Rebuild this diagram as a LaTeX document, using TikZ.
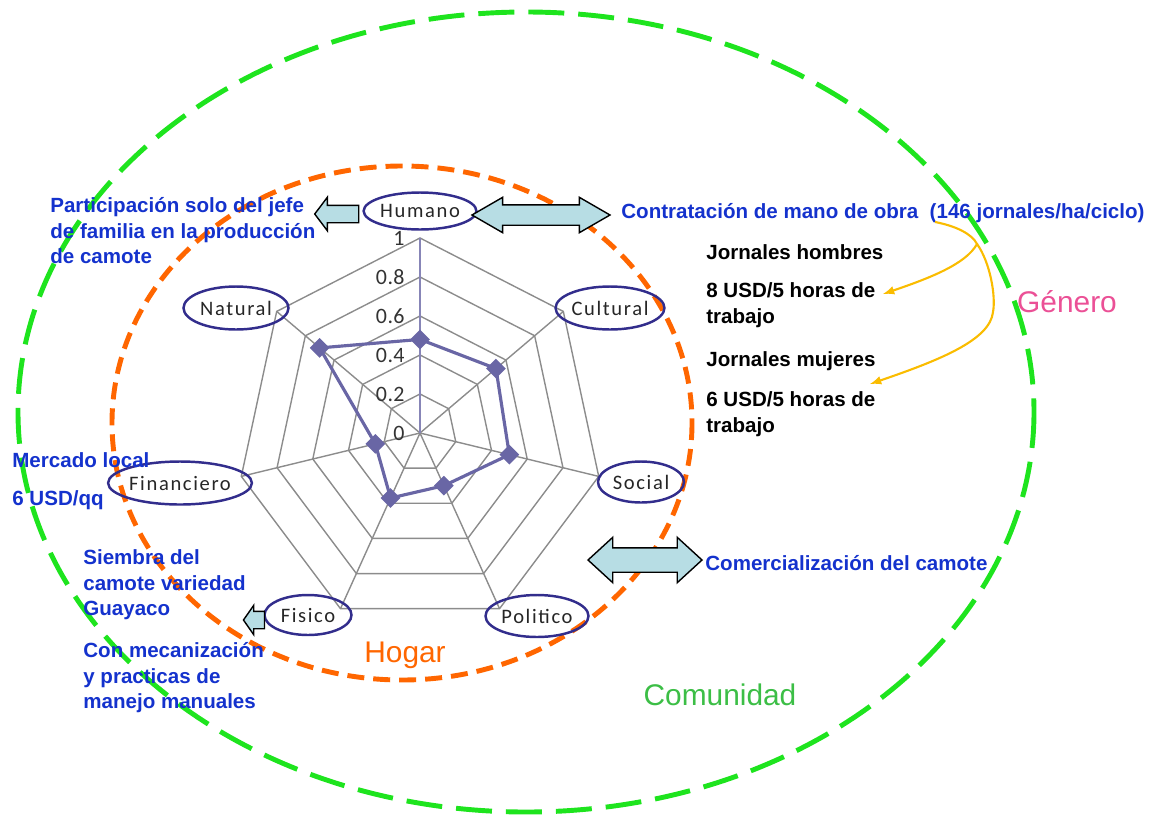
\documentclass[tikz,border=0pt]{standalone}
\usepackage{fontspec}
\usepackage{xcolor}
\usepackage{tikz}
\usetikzlibrary{shapes,arrows,positioning}
\newfontfamily\arialfont{Liberation Sans}
\newfontfamily\calfont{Carlito}[LetterSpace=8]
\newfontfamily\tickfont{Carlito}[LetterSpace=2]
\definecolor{txtblue}{RGB}{20,50,205}
\definecolor{capborder}{RGB}{50,45,140}
\definecolor{gridgray}{RGB}{140,140,140}
\definecolor{seriesblue}{RGB}{105,102,165}
\definecolor{arrowfill}{RGB}{183,221,228}
\definecolor{gold}{RGB}{250,188,0}
\definecolor{hogarorange}{RGB}{255,102,0}
\definecolor{comline}{RGB}{30,228,30}
\definecolor{comtext}{RGB}{60,190,70}
\definecolor{genpink}{RGB}{235,80,150}

\begin{document}
\begin{tikzpicture}[x=0.02cm, y=-0.02cm,
    capital/.style={ellipse, draw=capborder, line width=1.4pt, inner sep=0pt, text=black!85, font=\calfont\fontsize{11.7}{13}\selectfont},
    note/.style={anchor=west, align=left, inner sep=0pt, text=txtblue, font=\arialfont\bfseries\fontsize{11.7}{14.5}\selectfont},
    darknote/.style={note, text=black},
    zonelabel/.style={inner sep=0pt, font=\arialfont\fontsize{17}{20}\selectfont},
    webline/.style={draw=gridgray, line width=0.8pt},
    series/.style={draw=seriesblue, line width=1.8pt, line join=round},
    datapt/.style={diamond, fill=seriesblue, inner sep=0pt, minimum size=0.4cm},
    blockarrow/.style={draw=black, line width=0.8pt, fill=arrowfill, inner xsep=0pt},
    goldarrow/.style={->, >=latex, draw=gold, line width=1.2pt},
    homeline/.style={draw=hogarorange, line width=2.8pt, dash pattern=on 0.34cm off 0.18cm},
    commline/.style={draw=comline, line width=2.8pt, dash pattern=on 0.72cm off 0.28cm}
]
\useasboundingbox (0,0) rectangle (1159,825);

% community and household
\draw[commline] (526,412) ellipse [x radius=508, y radius=400];
\draw[homeline] (402,423) ellipse [x radius=290, y radius=257];

% radar chart
\begin{scope}[shift={(420,433)}, xscale=0.94]
    \foreach \r in {39,78,117,156,195}
        \draw[webline] (-90:\r) \foreach \k in {1,...,6} { -- ({-90+\k*360/7}:\r) } -- cycle;
    \foreach \k in {1,...,6}
        \draw[webline] (0,0) -- ({-90+\k*360/7}:195);
    \draw[draw=seriesblue!80, line width=0.8pt] (0,0) -- (-90:195);
    \foreach \v [count=\i from 0] in {0,0.2,0.4,0.6,0.8,1}
        \node[anchor=east, inner sep=0pt, text=black!80, font=\tickfont\fontsize{12.5}{14}\selectfont] (tick\i) at (-16,{-39*\i}) {\v};
    \foreach \v [count=\k from 0] in {0.48,0.53,0.5,0.3,0.37,0.25,0.7}
        \coordinate (d\k) at ({-90+\k*360/7}:{\v*195});
\end{scope}
\draw[series] (d0) -- (d1) -- (d2) -- (d3) -- (d4) -- (d5) -- (d6) -- cycle;
\foreach \k in {0,...,6}
    \node[datapt] (pt\k) at (d\k) {};

% capitals
\node[capital, minimum width=1.9cm, minimum height=0.74cm] (hum) at (420,211) {Humano};
\node[capital, minimum width=2.1cm, minimum height=0.86cm] (cul) at (610,308) {Cultural};
\node[capital, minimum width=1.72cm, minimum height=0.82cm] (soc) at (641,482) {Social};
\node[capital, minimum width=2.06cm, minimum height=0.84cm] (pol) at (537,616) {Politico};
\node[capital, minimum width=1.74cm, minimum height=0.8cm] (fis) at (308,615) {Fisico};
\node[capital, minimum width=2.28cm, minimum height=0.86cm] (fin) at (180,483) {Financiero};
\node[capital, minimum width=2.1cm, minimum height=0.86cm] (nat) at (236,308) {Natural};

% notes
\node[note] (part) at (50,231) {Participación solo del jefe\\de familia en la producción\\de camote};
\node[note] (contr) at (621,213) {Contratación de mano de obra\ \ (146 jornales/ha/ciclo)};
\node[darknote] (jh) at (706,252) {Jornales hombres};
\node[darknote] (hpay) at (706,305) {8 USD/5 horas de\\trabajo};
\node[darknote] (jm) at (706,361) {Jornales mujeres};
\node[darknote] (mpay) at (706,414) {6 USD/5 horas de\\trabajo};
\node[note] (merc) at (12,460) {Mercado local};
\node[note] (precio) at (12,500) {6 USD/qq};
\node[note] (siembra) at (83,585) {Siembra del\\camote variedad\\Guayaco};
\node[note] (mecan) at (83,678) {Con mecanización\\y practicas de\\manejo manuales};
\node[note] (comerc) at (705,563) {Comercialización del camote};

% zones
\node[zonelabel, text=hogarorange] (hogar) at (405,655) {Hogar};
\node[zonelabel, text=comtext] (comunidad) at (720,695) {Comunidad};
\node[zonelabel, text=genpink] (genero) at (1067,302) {Género};

% block arrows
\node[blockarrow, double arrow, minimum height=2.76cm, inner ysep=0.19cm,
      double arrow head extend=0.15cm, double arrow tip angle=60] (harr) at (541,215) {};
\node[blockarrow, single arrow, shape border rotate=180, minimum height=0.88cm, inner ysep=0.16cm,
      single arrow head extend=0.16cm, single arrow tip angle=106] (parr) at (340,214) {};
\node[blockarrow, double arrow, minimum height=2.28cm, inner ysep=0.23cm,
      double arrow head extend=0.21cm, double arrow tip angle=85] (carr) at (645,560) {};
\node[blockarrow, single arrow, shape border rotate=180, minimum height=0.42cm, inner ysep=0.16cm,
      single arrow head extend=0.12cm, single arrow tip angle=110] (farr) at (257,620) {};

% gender split of the hired labour
\coordinate (ystart) at (935,222);
\coordinate (split) at (977,244);
\coordinate (hend) at (883,294);
\coordinate (mend) at (870,384);
\draw[goldarrow] (ystart) .. controls (956,226) and (972,234) .. (split)
    .. controls (966,264) and (930,278) .. (hend);
\draw[goldarrow] (split) .. controls (990,262) and (996,296) .. (993,312)
    .. controls (990,340) and (940,360) .. (mend);
\end{tikzpicture}
\end{document}
